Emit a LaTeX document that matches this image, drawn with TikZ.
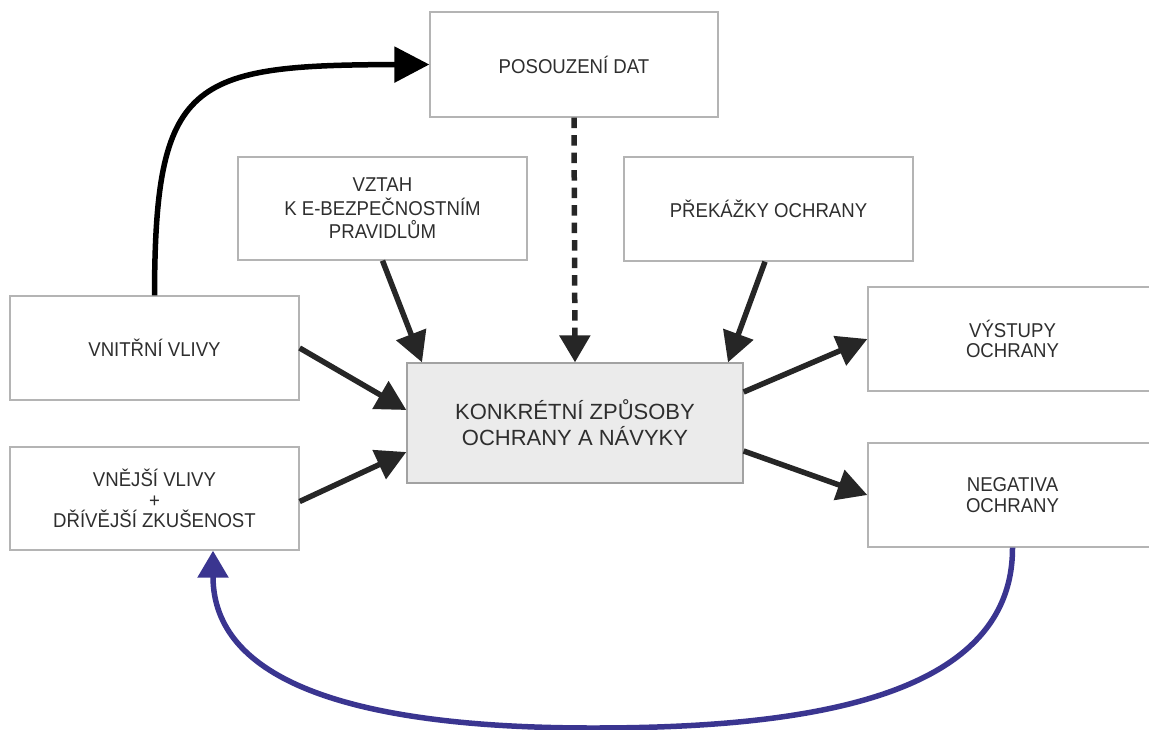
\documentclass[tikz,border=0pt]{standalone}
\usepackage{fontspec}
\setmainfont{Liberation Sans}
\newfontfamily\narrowsans{Liberation Sans}[FakeStretch=0.93]
\usetikzlibrary{arrows.meta}
\definecolor{boxgray}{HTML}{B4B4B4}
\definecolor{txt}{HTML}{2E2E2E}
\definecolor{arr}{HTML}{262626}
\definecolor{fillgray}{HTML}{EBEBEB}
\definecolor{loopblue}{HTML}{3A3590}
\begin{document}
\begin{tikzpicture}[x=1pt,y=-1pt,
  box/.style={draw=boxgray, line width=1.3pt, fill=white, minimum width=289pt, minimum height=104pt,
    inner sep=0pt, align=center, text=txt, font=\narrowsans\fontsize{20}{20.8}\selectfont},
  mainbox/.style={box, fill=fillgray, draw=boxgray!90!black, minimum width=336pt, minimum height=120pt,
    font=\fontsize{22}{26}\selectfont},
  flow/.style={draw=arr, line width=5.5pt, -{Triangle[length=30pt,width=31pt]}},
  dashflow/.style={flow, dash pattern=on 10.5pt off 7pt, -{Triangle[length=27pt,width=30pt]}},
  upflow/.style={draw=black, line width=5.5pt, -{Triangle[length=35pt,width=35pt]}},
  loopflow/.style={draw=loopblue, line width=5.5pt, -{Triangle[length=27pt,width=30pt]}}
]
\useasboundingbox (0,0) rectangle (1149,729);
\clip (0,0) rectangle (1149,729);
\node[box, minimum width=288pt, minimum height=105pt] (pos) at (574,64.5) {POSOUZENÍ DAT};
\node[box, minimum height=103pt, font=\narrowsans\fontsize{20}{23.3}\selectfont] (vztah) at (382.5,208.5) {VZTAH\\K E-BEZPEČNOSTNÍM\\PRAVIDLŮM};
\node[box] (prek) at (768.5,209) {PŘEKÁŽKY OCHRANY};
\node[box] (vnitr) at (154.5,348) {VNITŘNÍ VLIVY};
\node[box, minimum height=103pt] (vnej) at (154.5,498.5) {VNĚJŠÍ VLIVY\\+\\DŘÍVĚJŠÍ ZKUŠENOST};
\node[mainbox] (central) at (575,423) {KONKRÉTNÍ ZPŮSOBY\\OCHRANY A NÁVYKY};
\node[box] (vyst) at (1012.5,339) {VÝSTUPY\\OCHRANY};
\node[box] (neg) at (1012.5,495) {NEGATIVA\\OCHRANY};

\draw[flow] (vnitr.east) -- ([yshift=13pt]central.west);
\draw[flow] ([yshift=-3pt]vnej.east) -- ([yshift=-29pt]central.west);
\draw[flow] (vztah.south) -- ([xshift=-153pt]central.north);
\draw[flow] ([xshift=-3.5pt]prek.south) -- ([xshift=153pt]central.north);
\draw[dashflow] (pos.south) -- (central.north);
\draw[flow] ([yshift=31pt]central.east) -- (vyst.west);
\draw[flow] ([yshift=-28pt]central.east) -- (neg.west);
\draw[upflow] (vnitr.north) .. controls (155,80) and (190,65) .. (pos.west);
\draw[loopflow] (neg.south) .. controls (1013,700) and (800,728) .. (593,728)
  .. controls (350,728) and (213,680) .. ([xshift=58.5pt]vnej.south);
\end{tikzpicture}
\end{document}
